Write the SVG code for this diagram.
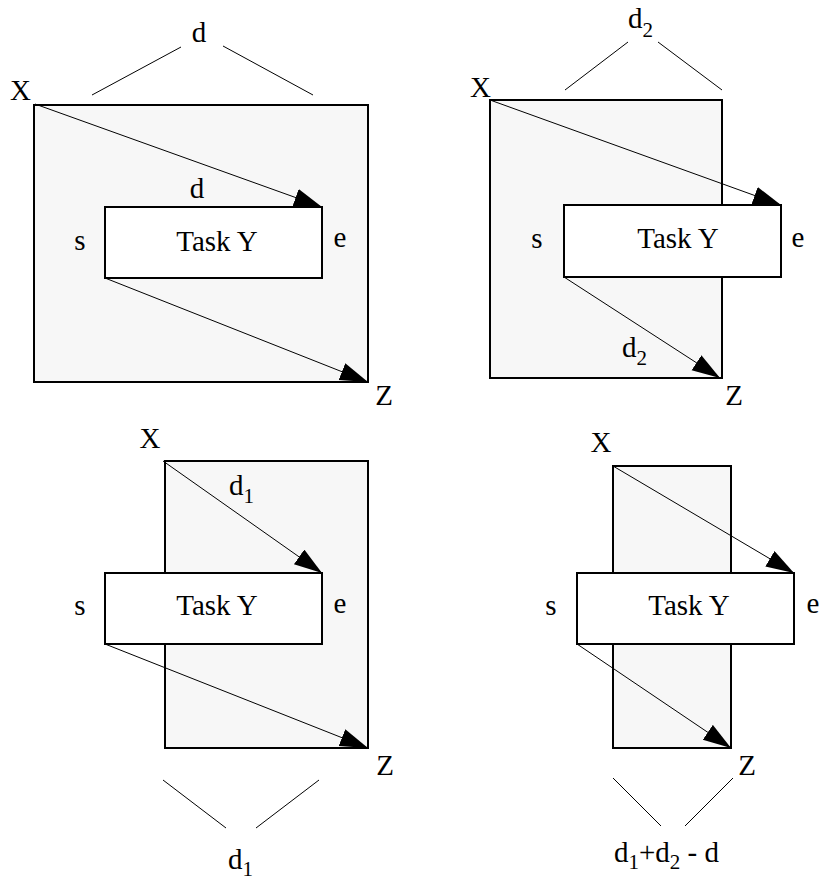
<svg xmlns="http://www.w3.org/2000/svg" width="820" height="883" viewBox="0 0 820 883">
<style>
.big{fill:#f7f7f7;stroke:#000;stroke-width:2}
.task{fill:#fff;stroke:#000;stroke-width:2}
.arr{stroke:#000;stroke-width:1;fill:none}
.br{stroke:#000;stroke-width:1;fill:none}
.sub{font-size:21px}
.m{text-anchor:middle}
</style>
<defs>
<marker id="ah" markerUnits="userSpaceOnUse" markerWidth="30" markerHeight="20" refX="28" refY="9" orient="auto" viewBox="0 0 30 20">
<path d="M0,0 L28,9 L0,18 z" fill="#000"/>
</marker>
</defs>
<g id="panel1" font-family="Liberation Serif, DejaVu Serif, serif" font-size="29">
<rect class="big" x="34" y="105" width="334" height="277"/>
<rect id="task1" class="task" x="105" y="207" width="217" height="71"/>
<text class="m" x="199" y="42">d</text>
<text x="10" y="100">X</text>
<text class="m" x="197" y="198">d</text>
<text class="m" x="80" y="250">s</text>
<text class="m" x="217" y="251">Task Y</text>
<text class="m" x="340" y="247">e</text>
<text class="m" x="384" y="405">Z</text>
</g>
<g id="panel2" font-family="Liberation Serif, DejaVu Serif, serif" font-size="29">
<rect class="big" x="490" y="100" width="232" height="278"/>
<rect id="task2" class="task" x="564" y="205" width="217" height="72"/>
<text x="628" y="28">d<tspan class="sub" dy="9">2</tspan></text>
<text x="470" y="97">X</text>
<text class="m" x="537" y="248">s</text>
<text class="m" x="678" y="248">Task Y</text>
<text class="m" x="798" y="247">e</text>
<text x="622" y="357">d<tspan class="sub" dy="8">2</tspan></text>
<text class="m" x="734" y="405">Z</text>
</g>
<g id="panel3" font-family="Liberation Serif, DejaVu Serif, serif" font-size="29">
<rect class="big" x="165" y="461" width="203" height="287"/>
<rect id="task3" class="task" x="105" y="573" width="217" height="71"/>
<text class="m" x="150" y="448">X</text>
<text x="229" y="495">d<tspan class="sub" dy="8">1</tspan></text>
<text class="m" x="80" y="615">s</text>
<text class="m" x="217" y="615">Task Y</text>
<text class="m" x="340" y="613">e</text>
<text class="m" x="385" y="775">Z</text>
<text x="228" y="869">d<tspan class="sub" dy="7">1</tspan></text>
</g>
<g id="panel4" font-family="Liberation Serif, DejaVu Serif, serif" font-size="29">
<rect class="big" x="613" y="466" width="118" height="282"/>
<rect id="task4" class="task" x="577" y="573" width="217" height="71"/>
<text class="m" x="601" y="452">X</text>
<text class="m" x="551" y="615">s</text>
<text class="m" x="689" y="615">Task Y</text>
<text class="m" x="813" y="613">e</text>
<text class="m" x="747" y="775">Z</text>
<text x="614" y="862">d<tspan class="sub" dy="7">1</tspan><tspan dy="-7">+d</tspan><tspan class="sub" dy="7">2</tspan><tspan dy="-7"> - d</tspan></text>
</g>
<g id="connectors">
<line class="arr" marker-end="url(#ah)" x1="35" y1="104" x2="322" y2="207"/>
<line class="arr" marker-end="url(#ah)" x1="105" y1="278" x2="368" y2="382"/>
<line class="br" x1="92" y1="95" x2="181" y2="47"/>
<line class="br" x1="223" y1="46" x2="313" y2="95"/>
<line class="arr" marker-end="url(#ah)" x1="490" y1="100" x2="781" y2="205"/>
<line class="arr" marker-end="url(#ah)" x1="564" y1="277" x2="720" y2="378"/>
<line class="br" x1="565" y1="90" x2="628" y2="42"/>
<line class="br" x1="658" y1="42" x2="722" y2="90"/>
<line class="arr" marker-end="url(#ah)" x1="163" y1="461" x2="322" y2="573"/>
<line class="arr" marker-end="url(#ah)" x1="105" y1="644" x2="368" y2="748"/>
<line class="br" x1="163" y1="780" x2="226" y2="828"/>
<line class="br" x1="256" y1="828" x2="319" y2="780"/>
<line class="arr" marker-end="url(#ah)" x1="613" y1="466" x2="794" y2="573"/>
<line class="arr" marker-end="url(#ah)" x1="577" y1="644" x2="731" y2="748"/>
<line class="br" x1="613" y1="778" x2="661" y2="826"/>
<line class="br" x1="685" y1="826" x2="733" y2="778"/>
</g>
</svg>
